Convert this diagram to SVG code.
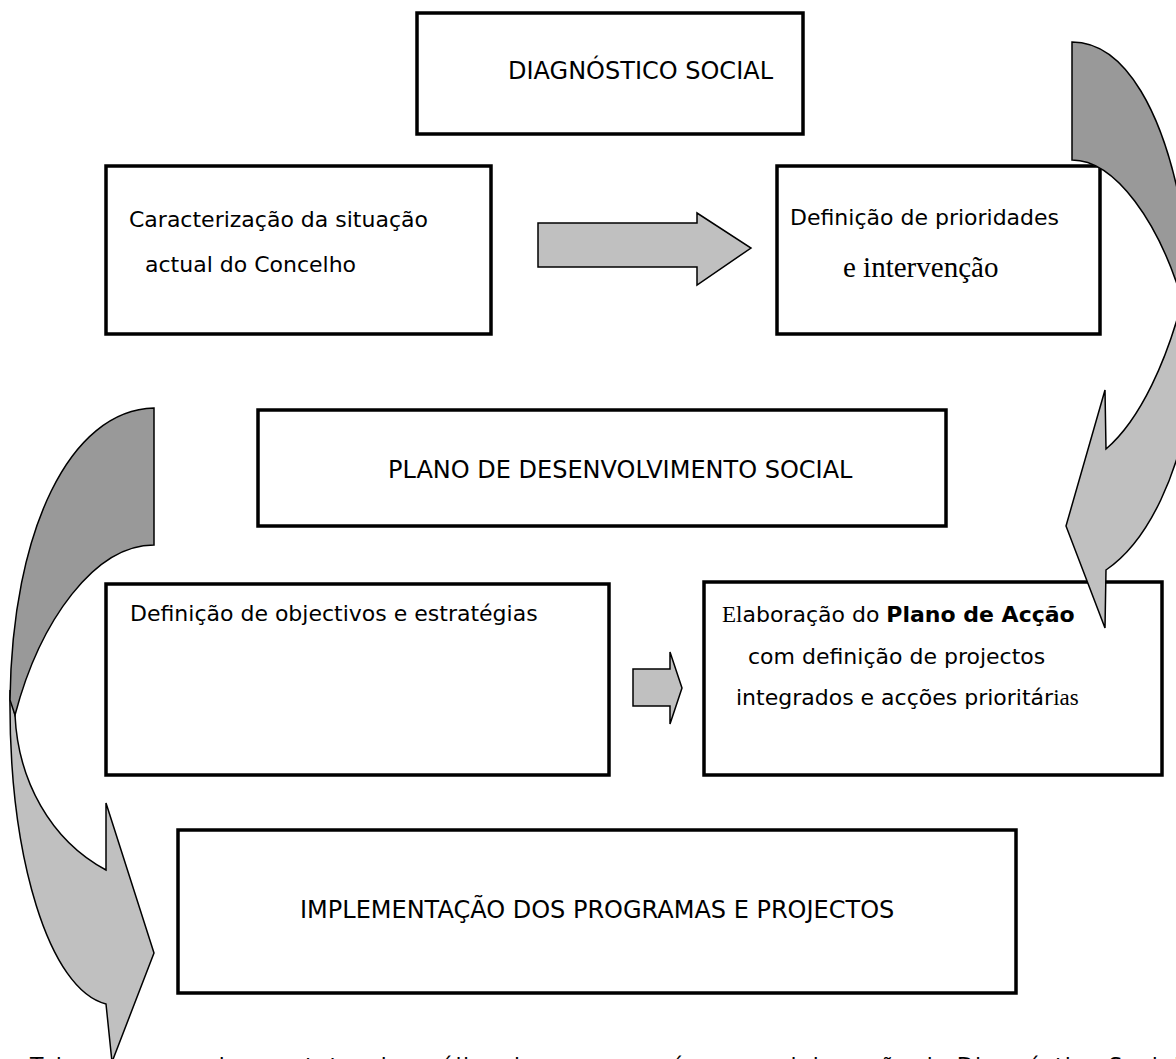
<svg xmlns="http://www.w3.org/2000/svg" width="1176" height="1059" viewBox="0 0 1176 1059">
<style>
.box{fill:#fff;stroke:#000;stroke-width:3.5}
.t{font-family:"DejaVu Sans","Verdana",sans-serif;font-size:22px;fill:#000}
.u{font-family:"DejaVu Sans","Verdana",sans-serif;font-size:24px;fill:#000}
.s{font-family:"Liberation Serif","Times New Roman",serif;font-size:29px}
.s2{font-family:"Liberation Serif","Times New Roman",serif;font-size:23px}
.b{font-weight:bold}
.light{fill:#c0c0c0;stroke:#000;stroke-width:1.5;stroke-linejoin:miter}
.dark{fill:#999999;stroke:#000;stroke-width:1.5}
</style>
<rect width="1176" height="1059" fill="#fff"/>
<g id="n-diag"><rect class="box" x="417" y="13" width="386" height="121"/><text class="u" x="508" y="79">DIAGNÓSTICO SOCIAL</text></g>
<g id="n-carac"><rect class="box" x="106" y="166" width="385" height="168"/><text class="t" x="129" y="227">Caracterização da situação</text><text class="t" x="145" y="272">actual do Concelho</text></g>
<g id="n-prior"><rect class="box" x="777" y="166" width="323" height="168"/><text class="t" x="790" y="225">Definição de prioridades</text><text class="t s" x="843" y="277">e intervenção</text></g>
<g id="n-pds"><rect class="box" x="258" y="410" width="688" height="116"/><text class="u" x="388" y="478">PLANO DE DESENVOLVIMENTO SOCIAL</text></g>
<g id="n-obj"><rect class="box" x="106" y="584" width="503" height="191"/><text class="t" x="130" y="621">Definição de objectivos e estratégias</text></g>
<g id="n-acao"><rect class="box" x="704" y="582" width="458" height="193"/><text class="t" x="722" y="622"><tspan class="s2">El</tspan>aboração do <tspan class="b">Plano de Acção</tspan></text><text class="t" x="748" y="664">com definição de projectos</text><text class="t" x="736" y="705">integrados e acções prioritár<tspan class="s2">ias</tspan></text></g>
<g id="n-impl"><rect class="box" x="178" y="830" width="838" height="163"/><text class="u" x="300" y="918">IMPLEMENTAÇÃO DOS PROGRAMAS E PROJECTOS</text></g>
<g id="connectors">
<path class="light" d="M538,223 H697 V213 L751,248 L697,285 V267 H538 Z"/>
<path class="light" d="M633,669 H670 V652 L682,688 L670,724 V706 H633 Z"/>
<path class="light" d="M1106,449 L1105,390 L1066,526 L1105,628 L1106,570 C1150,540 1180,470 1190,400 L1200,400 L1200,290 L1185,290 C1168,360 1140,420 1106,449 Z"/>
<path class="dark" d="M1072,42 C1124,42 1166,110 1185,230 L1185,310 C1160,220 1114,160 1072,160 Z"/>
<path class="light" d="M10,690 C8,860 50,990 106,1004 L112,1062 L154,953 L106,803 L106,870 C50,840 18,780 15,715 Z"/>
<path class="dark" d="M154,408 C70,410 12,530 10,700 L15,715 C40,620 95,545 154,545 Z"/>
</g>
<text class="t" x="30" y="1073" textLength="1150" lengthAdjust="spacing">Tal como se pode constatar da análise do esquema, é com a elaboração do Diagnóstico Social</text>
</svg>
